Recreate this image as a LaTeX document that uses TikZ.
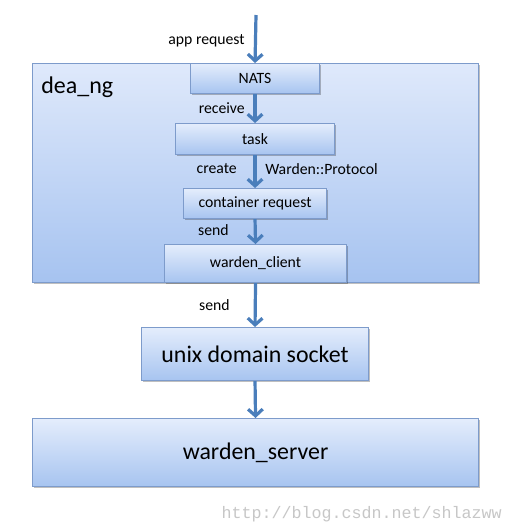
\documentclass[tikz,border=0pt]{standalone}
\usepackage{fontspec}
\setmainfont{Carlito}
\newfontfamily\wmfont{Liberation Mono}
\usetikzlibrary{arrows.meta,shadows}
\definecolor{arrowc}{HTML}{4A7EBB}
\definecolor{boxline}{HTML}{7D9BCB}
\definecolor{boxtop}{HTML}{E4EDFC}
\definecolor{boxbot}{HTML}{A7C4F0}
\definecolor{outtop}{HTML}{DFE9FB}
\definecolor{outbot}{HTML}{A6C3F0}
\tikzset{
  box/.style={draw=boxline, line width=0.8pt, top color=boxtop, bottom color=boxbot,
    anchor=north west, inner sep=0pt, font=\fontsize{11.8}{14}\selectfont,
    drop shadow={shadow xshift=1.2pt, shadow yshift=-1.2pt, opacity=0.25, fill=black}},
  bigbox/.style={box, font=\fontsize{17.9}{21}\selectfont},
  outer/.style={draw=boxline, line width=0.8pt, top color=outtop, bottom color=outbot,
    anchor=north west, inner sep=0pt,
    drop shadow={shadow xshift=1.2pt, shadow yshift=-1.2pt, opacity=0.25, fill=black}},
  flow/.style={draw=arrowc, line width=2.4pt, -{Straight Barb[length=5pt,width=11pt,line width=2.4pt]}},
  lbl/.style={font=\fontsize{11.8}{14}\selectfont, inner sep=0pt}
}
\begin{document}
\begin{tikzpicture}[x=0.75pt,y=-0.75pt]
\useasboundingbox (0,0) rectangle (514,526);
\fill[white] (0,0) rectangle (514,526);
% outer dea_ng box
\node[outer, minimum width=446*0.75pt, minimum height=219*0.75pt] (dea) at (32,63) {};
\node[anchor=west, font=\fontsize{18}{21}\selectfont, inner sep=0pt] (dealbl) at (41,87) {dea\_ng};
% inner boxes
\node[box, minimum width=129*0.75pt, minimum height=30*0.75pt] (nats) at (190,63) {NATS};
\node[box, minimum width=159*0.75pt, minimum height=31*0.75pt] (task) at (175,123) {task};
\node[box, minimum width=143*0.75pt, minimum height=30*0.75pt] (creq) at (183,188) {container request};
\node[box, minimum width=182*0.75pt, minimum height=38*0.75pt] (wc) at (164,244) {warden\_client};
\node[bigbox, minimum width=227*0.75pt, minimum height=53*0.75pt] (uds) at (141,327) {unix domain socket};
\node[bigbox, minimum width=446*0.75pt, minimum height=68*0.75pt] (ws) at (32,418) {warden\_server};
% arrows
\coordinate (start) at (256,15);
\draw[flow] (start) -- (nats.north);
\draw[flow] (nats.south) -- (task.north);
\draw[flow] (task.south) -- (creq.north);
\draw[flow] (creq.south) -- (wc.north);
\draw[flow] (wc.south) -- (uds.north);
\draw[flow] (uds.south) -- (ws.north);
% labels
\node[lbl, anchor=east] (l1) at (245,41) {app request};
\node[lbl, anchor=east] (l2) at (245,108) {receive};
\node[lbl, anchor=east] (l3) at (237,169) {create};
\node[lbl, anchor=west] (l4) at (265,169) {Warden::Protocol};
\node[lbl, anchor=east] (l5) at (229,230) {send};
\node[lbl, anchor=east] (l6) at (230,305) {send};
\node[anchor=east, inner sep=0pt, text=black!22, font=\wmfont\fontsize{12.5}{14}\selectfont] (wm) at (502,514) {http://blog.csdn.net/shlazww};
\end{tikzpicture}
\end{document}
